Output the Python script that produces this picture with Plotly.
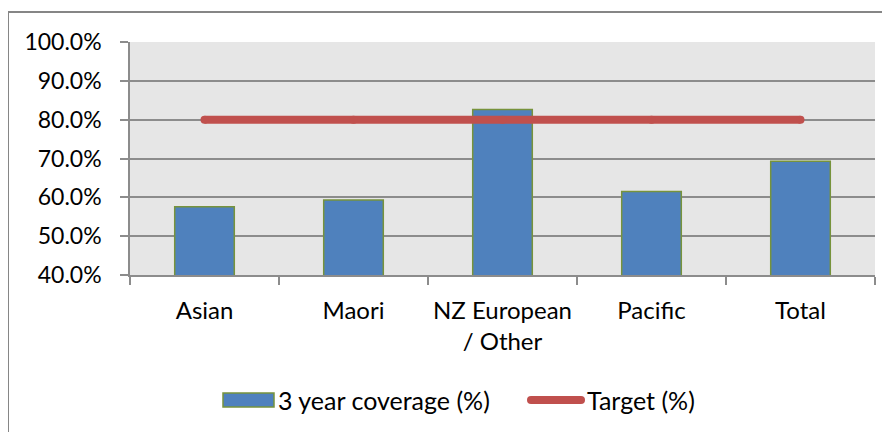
import plotly.graph_objects as go

categories = ["Asian", "Maori", "NZ European<br>/ Other", "Pacific", "Total"]
coverage = [57.6, 59.3, 82.6, 61.5, 69.3]
target = [80, 80, 80, 80, 80]
y_ticks = [40, 50, 60, 70, 80, 90, 100]
y_tick_labels = ["40.0%", "50.0%", "60.0%", "70.0%", "80.0%", "90.0%", "100.0%"]
series_names = ["3 year coverage (%)", "Target (%)"]

FONT = "Lato"
FS = 23
GRID = "#8C8C8C"
BAR_FILL = "#4F81BD"
BAR_EDGE = "#77933C"
LINE_COL = "#C0504D"

# plot area in screen pixels; page body adds an 8px offset
OFF = 8
L, R, T, B = 130, 875, 42, 275
def px(x):
    return (x - L) / (R - L)
def py(y):
    return (B - y) / (B - T)

fig = go.Figure()
fig.add_trace(go.Bar(
    x=categories, y=coverage, name=series_names[0],
    marker=dict(color=BAR_FILL, line=dict(color=BAR_EDGE, width=1.5)),
    width=0.4,
))
fig.add_trace(go.Scatter(
    x=categories, y=target, name=series_names[1], mode="lines+markers",
    line=dict(color=LINE_COL, width=8),
    marker=dict(color=LINE_COL, size=8, line=dict(width=0)),
))

fig.update_layout(
    width=890, height=432,
    margin=dict(l=L - OFF, r=890 - R + OFF, t=T - OFF, b=432 - B + OFF),
    paper_bgcolor="white", plot_bgcolor="#E6E6E6",
    font=dict(family=FONT, size=FS, color="black"),
    showlegend=False,
)
fig.update_yaxes(
    range=[40, 100], tickvals=y_ticks, ticktext=y_tick_labels,
    showgrid=True, gridcolor=GRID, gridwidth=1.5,
    showline=True, linecolor=GRID, linewidth=1.5,
    ticks="outside", ticklen=8, tickcolor=GRID, tickwidth=1.5,
    ticklabelstandoff=14, zeroline=False, automargin=False,
)
fig.update_xaxes(
    showline=True, linecolor=GRID, linewidth=1.5,
    ticks="outside", ticklen=8, tickcolor=GRID, tickwidth=1.5,
    tickson="boundaries", showgrid=False, ticklabelstandoff=13, automargin=False,
    tickfont=dict(size=24),
)
# chart border
fig.add_shape(type="rect", xref="paper", yref="paper",
              x0=px(8), x1=px(900), y0=py(450), y1=py(12),
              line=dict(color="#868686", width=2), fillcolor="rgba(0,0,0,0)", layer="below")

# custom legend
ly = 400
LFS = 25
fig.add_shape(type="rect", xref="paper", yref="paper",
              x0=px(223), x1=px(274), y0=py(407), y1=py(393),
              line=dict(color=BAR_EDGE, width=1.5), fillcolor=BAR_FILL)
fig.add_annotation(xref="paper", yref="paper", x=px(276), y=py(ly), text=series_names[0],
                   showarrow=False, xanchor="left", yanchor="middle", font=dict(size=LFS))
fig.add_shape(type="line", xref="paper", yref="paper",
              x0=px(531), x1=px(581), y0=py(ly), y1=py(ly),
              line=dict(color=LINE_COL, width=8))
for cx in (531, 581):
    fig.add_shape(type="circle", xref="paper", yref="paper",
                  x0=px(cx - 4), x1=px(cx + 4), y0=py(ly + 4), y1=py(ly - 4),
                  line=dict(width=0), fillcolor=LINE_COL)
fig.add_annotation(xref="paper", yref="paper", x=px(585), y=py(ly), text=series_names[1],
                   showarrow=False, xanchor="left", yanchor="middle", font=dict(size=LFS))
fig.write_html("out.html")
